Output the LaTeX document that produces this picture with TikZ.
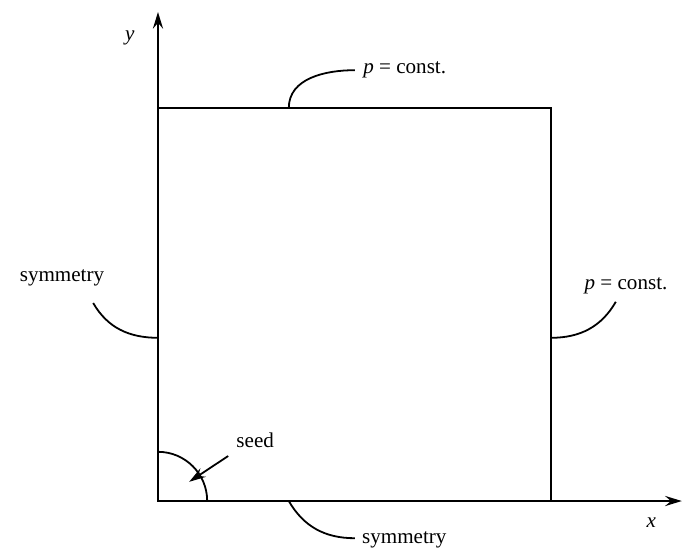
\documentclass[tikz,border=0pt]{standalone}
\usepackage{fontspec}
\setmainfont{Liberation Serif}
\usetikzlibrary{arrows.meta}
\begin{document}
\begin{tikzpicture}[
  wall/.style={line width=1pt},
  lead/.style={line width=0.85pt},
  tip/.style={-{Stealth[length=2.8mm,width=1.7mm,inset=1mm]}},
  every node/.style={font=\normalsize, inner sep=1pt}
]
\useasboundingbox (-2.633,-0.817) rectangle (8.8,8.35);
\coordinate (o) at (0,0);
\coordinate (xe) at (8.73,0);
\coordinate (ye) at (0,8.15);
\draw[wall,tip] (o) -- (xe);
\draw[wall,tip] (o) -- (ye);
\draw[wall] (0,0) rectangle (6.55,6.55);
\node (xl) at (8.22,-0.36) {\itshape x};
\node (yl) at (-0.47,7.72) {\itshape y};
\node[anchor=west] (ptop) at (3.38,7.18) {{\itshape p} = const.};
\node (pright) at (7.8,3.58) {{\itshape p} = const.};
\node (symleft) at (-1.6,3.72) {symmetry};
\node[anchor=west] (symbot) at (3.36,-0.64) {symmetry};
\node (seed) at (1.62,1.02) {seed};
\coordinate (t1) at (2.18,6.55);
\coordinate (t2) at (3.28,7.18);
\coordinate (l1) at (-1.08,3.3);
\coordinate (l2) at (0,2.72);
\coordinate (r1) at (6.55,2.72);
\coordinate (r2) at (7.63,3.32);
\coordinate (b1) at (2.18,0);
\coordinate (b2) at (3.28,-0.62);
\coordinate (s1) at (1.17,0.75);
\coordinate (s2) at (0.52,0.32);
\draw[lead] (t1) to[out=90,in=180] (t2);
\draw[lead] (l1) to[out=-60,in=180] (l2);
\draw[lead] (r1) to[out=0,in=-120] (r2);
\draw[lead] (b1) to[out=-60,in=180] (b2);
\draw[lead] (0.82,0) arc (0:90:0.82);
\draw[lead,tip] (s1) -- (s2);
\end{tikzpicture}
\end{document}
